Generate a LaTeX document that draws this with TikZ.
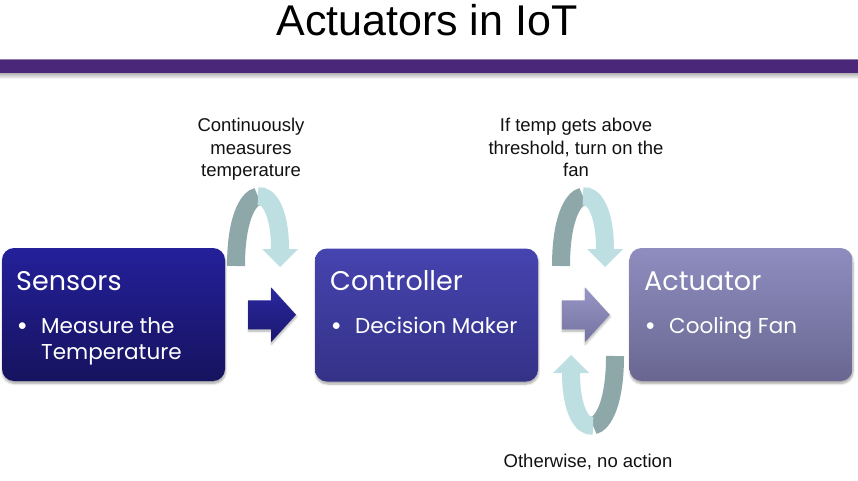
\documentclass[tikz,border=0pt]{standalone}
\usepackage{fontspec}
\setmainfont{Liberation Sans}
\newfontfamily\boxfont{Poppins}
\newfontfamily\bulfont{Lato}
\usetikzlibrary{shadows.blur,calc}
\definecolor{barpurple}{HTML}{4A2779}
\definecolor{sensTop}{HTML}{24209A}
\definecolor{sensBot}{HTML}{16135F}
\definecolor{ctrlTop}{HTML}{4644AF}
\definecolor{ctrlBot}{HTML}{343287}
\definecolor{actTop}{HTML}{8F8DBF}
\definecolor{actBot}{HTML}{696791}
\definecolor{arrAtop}{HTML}{2A279E}
\definecolor{arrAbot}{HTML}{1B1870}
\definecolor{arrBtop}{HTML}{9896C6}
\definecolor{arrBbot}{HTML}{74729F}
\definecolor{tealdark}{HTML}{8EA8AA}
\definecolor{teallight}{HTML}{BDDFE2}
\definecolor{labeltext}{HTML}{111111}
\begin{document}
\begin{tikzpicture}[x=1pt,y=-1pt,
  box/.style={rounded corners=12pt, minimum width=223pt, minimum height=133pt, inner sep=0pt,
    blur shadow={shadow xshift=0.5pt, shadow yshift=-2.5pt, shadow opacity=35, shadow blur steps=6}},
  head/.style={anchor=base west, text=white, font=\boxfont\fontsize{27}{32}\selectfont, inner sep=0pt},
  item/.style={anchor=base west, text=white, font=\boxfont\fontsize{21.5}{26.5}\selectfont, inner sep=0pt},
  bul/.style={anchor=base west, text=white, font=\bulfont\fontsize{18}{22}\selectfont, inner sep=0pt},
  lbl/.style={anchor=base, text=labeltext, font=\fontsize{18.5}{22}\selectfont, inner sep=0pt},
  arrshadow/.style={blur shadow={shadow xshift=0.5pt, shadow yshift=-2pt, shadow opacity=30, shadow blur steps=5}},
  uturn/.pic={
    \draw[line width=18pt, draw=tealdark] (0,0) .. controls (0,-45) and (11,-67.5) .. (22,-69.625);
    \draw[line width=18pt, draw=teallight] (22,-69.625) .. controls (33,-71.75) and (44,-53.5) .. (44,-17);
    \fill[teallight] (26,-17) -- (62,-17) -- (44,1) -- cycle;
  }]
\useasboundingbox (0,0) rectangle (858,481);

% title and bar
\node[anchor=base, inner sep=0pt, font=\fontsize{43}{50}\selectfont] (title) at (427,36) {Actuators in IoT};
\shade[top color=black!35, bottom color=white] (0,72) rectangle (858,79);
\fill[barpurple!60] (0,59) rectangle (858,60);
\fill[barpurple] (0,60) rectangle (858,73);

% boxes
\node[box, top color=sensTop, bottom color=sensBot] (sens) at (113.5,314.5) {};
\node[box, top color=ctrlTop, bottom color=ctrlBot] (ctrl) at (426.5,315) {};
\node[box, top color=actTop, bottom color=actBot] (act) at (741,314.5) {};

% box texts
\node[head] (sensT) at (16,290) {Sensors};
\node[bul] (sensB) at (17,331) {\textbullet};
\node[item] (sensI) at (41,333) {\begin{tabular}[t]{@{}l@{}}Measure the\\Temperature\end{tabular}};

\node[head] (ctrlT) at (330,290) {Controller};
\node[bul] (ctrlB) at (331,331) {\textbullet};
\node[item] (ctrlI) at (355,333) {Decision Maker};

\node[head] (actT) at (644,290) {Actuator};
\node[bul] (actB) at (645,331) {\textbullet};
\node[item] (actI) at (669,333) {Cooling Fan};

% block arrows
\coordinate (m1) at ($(sens.east)!0.5!(ctrl.west)$);
\coordinate (m2) at ($(ctrl.east)!0.5!(act.west)$);
\shade[top color=arrAtop, bottom color=arrAbot, arrshadow, shift={(m1)}]
  (-22,-14.5) -- (1,-14.5) -- (1,-27.5) -- (26,0) -- (1,27.5) -- (1,14.5) -- (-22,14.5) -- cycle;
\shade[top color=arrBtop, bottom color=arrBbot, arrshadow, shift={(m2)}]
  (-22,-14.5) -- (1,-14.5) -- (1,-27.5) -- (26,0) -- (1,27.5) -- (1,14.5) -- (-22,14.5) -- cycle;

% curved arrows
\pic at (236,266) {uturn};
\pic at (561,266) {uturn};
\pic[rotate=180] at (615,356) {uturn};

% labels
\node[lbl] (l1) at (251,132) {\begin{tabular}[t]{@{}c@{}}Continuously\\measures\\temperature\end{tabular}};
\node[lbl] (l2) at (576,132) {\begin{tabular}[t]{@{}c@{}}If temp gets above\\threshold, turn on the\\fan\end{tabular}};
\node[lbl] (l3) at (588,467) {Otherwise, no action};
\end{tikzpicture}
\end{document}
